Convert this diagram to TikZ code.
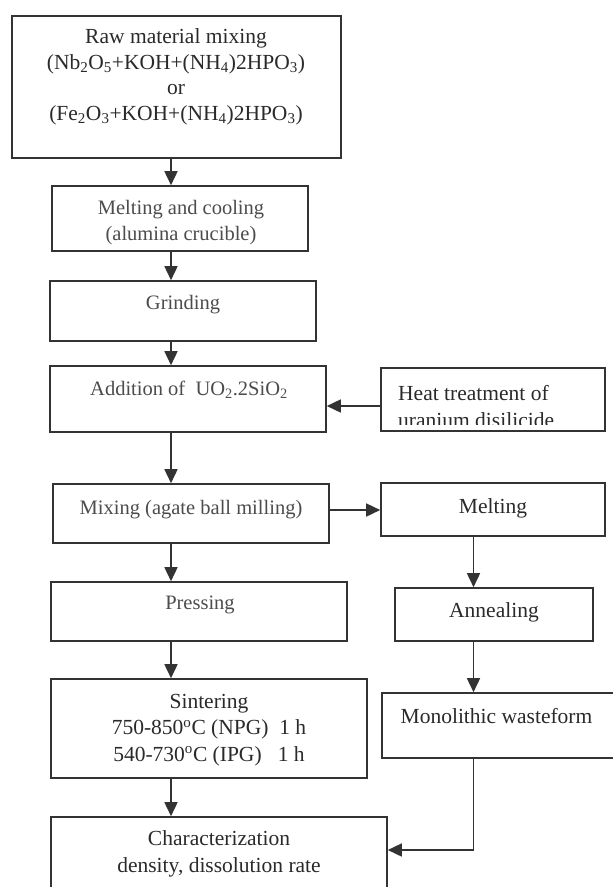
\documentclass[tikz,border=0pt]{standalone}
\usepackage{fontspec}
\newfontfamily\tnr{Liberation Serif}
\usetikzlibrary{arrows.meta}
\definecolor{ln}{HTML}{333333}
\definecolor{tt}{HTML}{2A2A2A}
\definecolor{gt}{HTML}{4C4C4C}
\begin{document}
\begin{tikzpicture}[x=1pt,y=-1pt,
  box/.style={draw=ln, line width=1.6pt, fill=white, inner sep=0pt, rectangle},
  arr/.style={draw=ln, line width=1.6pt, -{Triangle[length=14pt,width=13pt]}},
  tm/.style={text=tt, font=\tnr\fontsize{21.5}{25.5}\selectfont, align=center, inner sep=0pt},
  gm/.style={text=gt, font=\tnr\fontsize{20.5}{26}\selectfont, align=center, inner sep=0pt}]
\fill[white] (0,0) rectangle (613,887);
\clip (0,0) rectangle (613,887);

% coordinates for connector positions
\coordinate (xl) at (171,0);
\coordinate (xr) at (473.5,0);
\coordinate (yh) at (0,406);
\coordinate (ym) at (0,510);
\coordinate (yc) at (0,850);

% boxes
\node[box, minimum width=329pt, minimum height=142pt] (b1) at (176.5,87) {};
\node[box, minimum width=256pt, minimum height=65pt] (b2) at (180,218.5) {};
\node[box, minimum width=266pt, minimum height=60pt] (b3) at (183,311) {};
\node[box, minimum width=276pt, minimum height=66pt] (b4) at (188,399) {};
\node[box, minimum width=224pt, minimum height=63pt] (heat) at (493,399.5) {};
\node[box, minimum width=276pt, minimum height=59pt] (mix) at (191,513.5) {};
\node[box, minimum width=224pt, minimum height=53pt] (melt) at (493,509.5) {};
\node[box, minimum width=296pt, minimum height=59pt] (press) at (199,611.5) {};
\node[box, minimum width=198pt, minimum height=53pt] (anneal) at (494,614.5) {};
\node[box, minimum width=316pt, minimum height=99pt] (sinter) at (209,728.5) {};
\node[box, minimum width=240pt, minimum height=65pt] (mono) at (502,725.5) {};
\node[box, minimum width=336pt, minimum height=83pt] (char) at (219,858.5) {};

% texts
\node[tm] (t1) at (176,77) {Raw material mixing\\
(Nb\textsubscript{2}O\textsubscript{5}+KOH+(NH\textsubscript{4})2HPO\textsubscript{3})\\
or\\
(Fe\textsubscript{2}O\textsubscript{3}+KOH+(NH\textsubscript{4})2HPO\textsubscript{3})};
\node[gm] (t2) at (181,223) {Melting and cooling\\(alumina crucible)};
\node[gm] (t3) at (183,305) {Grinding};
\node[gm] (t4) at (189,390) {Addition of \ UO\textsubscript{2}.2SiO\textsubscript{2}};
\begin{scope}
\clip (382,369) rectangle (604,424);
\node[tm, anchor=base west] (th1) at (398,400) {Heat treatment of};
\node[tm, anchor=base west] (th2) at (398,427) {uranium disilicide};
\end{scope}
\node[gm] (tmix) at (191,510) {Mixing (agate ball milling)};
\node[tm] (tmelt) at (493,508) {Melting};
\node[gm] (tpress) at (200,605) {Pressing};
\node[tm] (tann) at (494,612) {Annealing};
\node[tm, font=\tnr\fontsize{21.5}{26.5}\selectfont] (tsin) at (209,730) {Sintering\\
750-850\textsuperscript{o}C (NPG) \ 1 h\\
540-730\textsuperscript{o}C (IPG) \ \ 1 h};
\node[tm] (tmono) at (496.5,716) {Monolithic wasteform};
\node[tm, font=\tnr\fontsize{21.5}{27}\selectfont] (tchar) at (219,854) {Characterization\\density, dissolution rate};

% connectors
\draw[arr] (b1.south -| xl) -- (b2.north -| xl);
\draw[arr] (b2.south -| xl) -- (b3.north -| xl);
\draw[arr] (b3.south -| xl) -- (b4.north -| xl);
\draw[arr] (heat.west |- yh) -- (b4.east |- yh);
\draw[arr] (b4.south -| xl) -- (mix.north -| xl);
\draw[arr] (mix.east |- ym) -- (melt.west |- ym);
\draw[arr] (mix.south -| xl) -- (press.north -| xl);
\draw[arr] (melt.south -| xr) -- (anneal.north -| xr);
\draw[arr] (press.south -| xl) -- (sinter.north -| xl);
\draw[arr] (anneal.south -| xr) -- (mono.north -| xr);
\draw[arr] (sinter.south -| xl) -- (char.north -| xl);
\draw[arr] (mono.south -| xr) |- (char.east |- yc);
\end{tikzpicture}
\end{document}
